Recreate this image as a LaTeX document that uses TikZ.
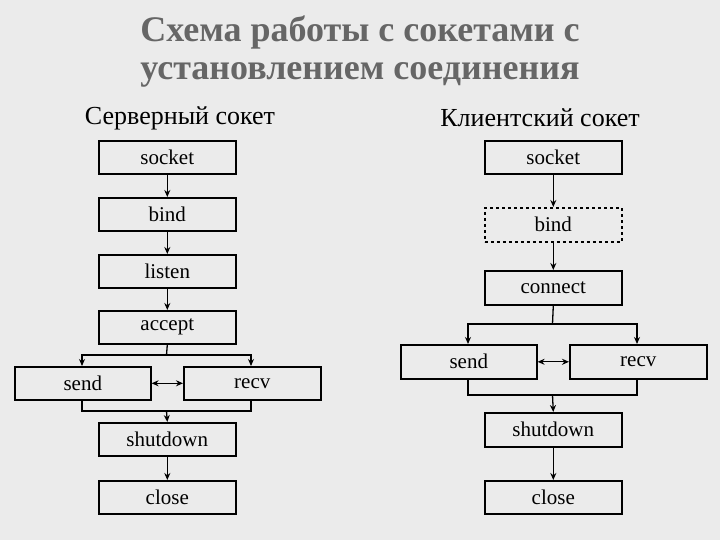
\documentclass[tikz,border=0pt]{standalone}
\usepackage{fontspec}
\setmainfont{Liberation Serif}
\usetikzlibrary{arrows.meta}
\begin{document}
\begin{tikzpicture}[x=1pt,y=-1pt,
  box/.style={draw,line width=1.6pt,minimum width=137pt,minimum height=33pt,inner sep=0pt,font=\fontsize{21}{24}\selectfont,anchor=north west},
  ar/.style={line width=1.3pt,-{Stealth[length=7pt,width=6pt]}},
  ln/.style={line width=1.3pt}]
\fill[black!8] (0,0) rectangle (720,540);
\useasboundingbox (0,0) rectangle (720,540);
\node[font=\fontsize{36}{40}\bfseries,text=black!60] (t1) at (360,32) {Схема работы с сокетами с};
\node[font=\fontsize{36}{40}\bfseries,text=black!60] (t2) at (360,75) {установлением соединения};
\node[font=\fontsize{26}{30}\selectfont] (s1) at (180,118) {Серверный сокет};
\node[font=\fontsize{26}{30}\selectfont] (s2) at (540,118) {Клиентский сокет};
% left
\node[box] (ls) at (98,140) {socket};
\node[box] (lb) at (98,197) {bind};
\node[box] (ll) at (98,254) {listen};
\node[box] (la) at (98,310) {accept};
\node[box,minimum width=136pt] (lsd) at (14,366) {send};
\node[box] (lr) at (183,366) {recv};
\node[box] (lsh) at (98,422) {shutdown};
\node[box] (lc) at (98,480) {close};
\draw[ar] (ls) -- (lb);
\draw[ar] (lb) -- (ll);
\draw[ar] (ll) -- (la);
\coordinate (lj) at (166.5,355);
\draw[ln] (la.south) -- (lj);
\draw[ar] (lj) -| (82,366);
\draw[ar] (lj) -| (251,366);
\draw[ln] (82,399) |- (251,411) -- (251,399);
\coordinate (lm) at (166.5,411);
\draw[ar] (lm) -- (lsh.north);
\draw[ar,{Stealth[length=7pt,width=6pt]}-{Stealth[length=7pt,width=6pt]}] (lsd) -- (lr);
\draw[ar] (lsh) -- (lc);
% right
\node[box] (rs) at (484,140) {socket};
\node[box,dashed,minimum height=34pt] (rb) at (484,207) {bind};
\node[box,minimum height=34pt] (rc) at (484,270) {connect};
\node[box,minimum height=34pt,minimum width=136pt] (rsd) at (400,344) {send};
\node[box,minimum height=34pt] (rr) at (569,344) {recv};
\node[box,minimum height=34pt] (rsh) at (484,412) {shutdown};
\node[box] (rcl) at (484,480) {close};
\draw[ar] (rs) -- (rb);
\draw[ar] (rb) -- (rc);
\coordinate (rj) at (552.5,324);
\draw[ln] (rc.south) -- (rj);
\draw[ar] (rj) -| (468,344);
\draw[ar] (rj) -| (637,344);
\draw[ln] (468,378) |- (637,395) -- (637,378);
\coordinate (rm) at (552.5,395);
\draw[ar] (rm) -- (rsh.north);
\draw[ar,{Stealth[length=7pt,width=6pt]}-{Stealth[length=7pt,width=6pt]}] (rsd) -- (rr);
\draw[ar] (rsh) -- (rcl);
\end{tikzpicture}
\end{document}
